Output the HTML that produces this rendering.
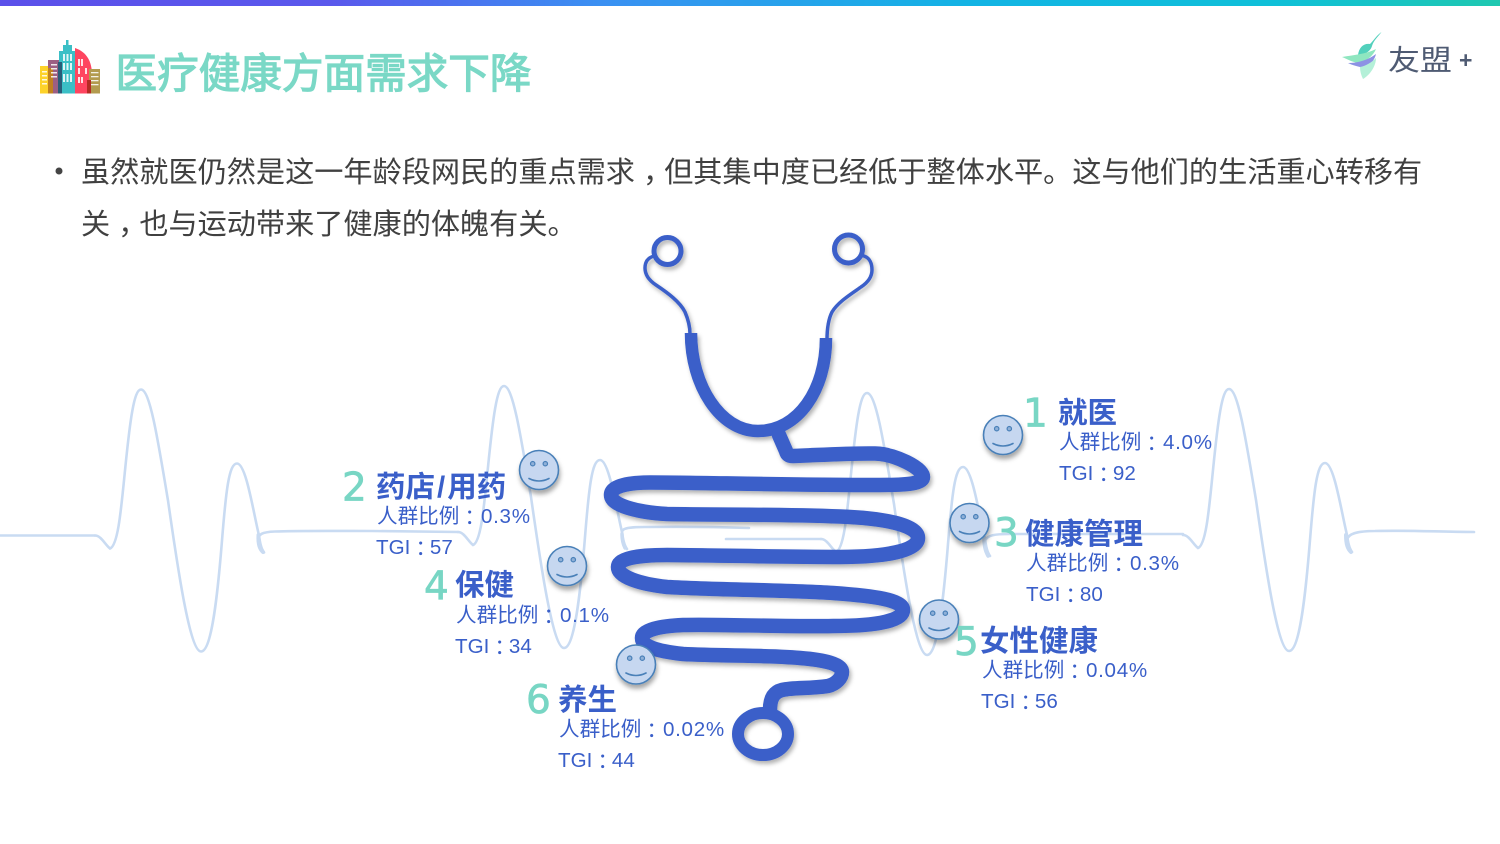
<!DOCTYPE html>
<html><head><meta charset="utf-8"><title>医疗健康方面需求下降</title>
<style>
html,body{margin:0;padding:0;background:#fff}
body{width:1500px;height:844px;overflow:hidden;position:relative}
#bar{position:absolute;left:0;top:0;width:1500px;height:6px;background:linear-gradient(90deg,#5b50ea 0%,#5a58ec 22%,#3a90f2 40%,#12b4e4 65%,#0fc0d8 85%,#1fc8b0 100%)}
svg{position:absolute;left:0;top:0}
text{font-family:"Liberation Sans","Noto Sans CJK SC",sans-serif}
.t{font-size:41.6px;font-weight:400;fill:#7ad8c6;stroke:#7ad8c6;stroke-width:1.2px}
.b{font-size:29.17px;fill:#404040}
.n{font-family:"DejaVu Sans",sans-serif;font-size:39px;fill:#78d6c4;stroke:#78d6c4;stroke-width:.7px}
.h{font-size:29.5px;font-weight:700;fill:#3a5fc9}
.d{font-size:20.6px;fill:#3a5fc9}
.p{font-family:"Noto Sans CJK TC",sans-serif}
.v{letter-spacing:.7px}
.w{fill:none;stroke:#c9dbf2;stroke-width:2.6;stroke-linecap:round}
.s{fill:none;stroke:#3a5fc9;stroke-linecap:round;stroke-linejoin:round}
</style></head><body>
<div id="bar"></div>
<svg width="1500" height="844" viewBox="0 0 1500 844">
<defs>
<filter id="sh" x="-10%" y="-10%" width="120%" height="120%"><feDropShadow dx="2" dy="3" stdDeviation="2" flood-color="#000" flood-opacity=".3"/></filter>
<filter id="sh2" x="-30%" y="-30%" width="160%" height="170%"><feDropShadow dx="1" dy="4" stdDeviation="2.5" flood-color="#000" flood-opacity=".35"/></filter>
<path id="beat" d="M0 0C6 0 10 9 15 13C23 10 26 -25 30 -65C35 -115 39 -146 46 -146C55 -146 63 -95 73 -35C83 35 95 116 106 116C117 116 123 55 127 5C131 -45 134 -72 142 -72C151 -72 158 -25 164 0C165 7 166 13 169 17"/>
<g id="smile">
<circle r="19.5" fill="#c6d7f0" stroke="#4a80b8" stroke-width="1.6"/>
<circle cx="-6.3" cy="-6.3" r="2.2" fill="#8fb0d8" stroke="#4a80b8" stroke-width="1.2"/>
<circle cx="6.3" cy="-6.3" r="2.2" fill="#8fb0d8" stroke="#4a80b8" stroke-width="1.2"/>
<path d="M-10 8.5Q0 13.5 10 8.5" fill="none" stroke="#4a80b8" stroke-width="1.6" stroke-linecap="round"/>
</g>
</defs>

<!-- ECG background -->
<g class="w">
<path d="M0 535.5H95"/><use href="#beat" x="95" y="535.5"/>
<path d="M258 541C258 534 262 532 275 531.5C300 530.500 340 531 372 531L458 532"/>
<use href="#beat" x="458" y="532"/>
<path d="M622 532C622 528 630 527 645 527C680 526.500 720 527 749 528"/>
<path d="M726 539H821"/>
<use href="#beat" x="821" y="539"/>
<path d="M985 541C987 535 995 534 1010 534H1183"/>
<use href="#beat" x="1183" y="535"/>
<path d="M1347 540C1348 534 1356 531 1375 531C1410 530 1440 532 1474 532"/>
<path d="M258.500 535C258 545 260 549 263 552" stroke-width="4"/>
<path d="M1346 535C1346 545 1348 549 1351 552" stroke-width="4"/>
<path d="M984 538C984 548 986 552 988 556" stroke-width="3.500"/>
<path d="M622 534C622 540 623 544 625 548" stroke-width="3.500"/>
</g>

<!-- header icon -->
<g>
<rect x="40" y="66" width="9" height="27.500" fill="#fdd22a"/>
<rect x="48" y="60" width="11" height="33.500" fill="#9c5f83"/>
<rect x="48" y="68" width="5" height="25.500" fill="#c08020"/>
<rect x="59" y="51" width="16" height="42.500" fill="#3bbfc6"/>
<rect x="63" y="45" width="9" height="7" fill="#3bbfc6"/>
<rect x="66" y="40" width="2.500" height="6" fill="#3bbfc6"/>
<rect x="58" y="62" width="4" height="31.500" fill="#2a5c78"/>
<path d="M75 48C87 52 92 62 92 75V93.500H75Z" fill="#fe4560"/>
<rect x="89" y="69" width="11" height="24.500" fill="#b39b4f"/>
<rect x="87" y="80" width="4" height="13.500" fill="#b52b24"/>
<g fill="#fff" opacity=".85">
<rect x="63" y="54" width="2" height="7"/><rect x="66.500" y="54" width="2" height="7"/><rect x="70" y="54" width="2" height="7"/>
<rect x="63" y="63" width="2" height="7"/><rect x="66.500" y="63" width="2" height="7"/><rect x="70" y="63" width="2" height="7"/>
<rect x="63" y="74" width="2" height="8"/><rect x="66.500" y="74" width="2" height="8"/><rect x="70" y="74" width="2" height="8"/>
<rect x="78" y="59" width="2" height="7"/><rect x="81" y="59" width="2" height="7"/>
<rect x="78" y="68" width="2" height="6"/><rect x="85" y="68" width="2" height="6"/><rect x="78" y="77" width="2" height="6"/><rect x="81" y="77" width="2" height="6"/>
<rect x="42" y="71" width="5" height="1.500"/><rect x="42" y="75" width="5" height="1.500"/><rect x="42" y="79" width="5" height="1.500"/><rect x="42" y="83" width="5" height="1.500"/>
<rect x="51" y="64" width="6" height="1.500"/><rect x="51" y="68" width="6" height="1.500"/><rect x="51" y="72" width="6" height="1.500"/><rect x="51" y="76" width="6" height="1.500"/>
<rect x="91" y="72" width="7.500" height="1.300"/><rect x="91" y="76" width="7.500" height="1.300"/><rect x="91" y="80" width="7.500" height="1.300"/><rect x="91" y="84" width="7.500" height="1.300"/>
</g>
</g>
<text class="t" x="115.500" y="88">医疗健康方面需求下降</text>

<!-- logo -->
<g>
<path d="M1381.500 32C1377 38 1374 40 1372 46C1371 50 1366 55 1358 55C1359 47 1364 43 1370 44C1374 40 1377 35 1381.500 32Z" fill="#52d0bc"/>
<path d="M1342 57C1354 55 1366 54 1376 49C1373 56 1366 62 1358 63C1352 62 1347 59 1342 57Z" fill="#8fe6c0"/>
<path d="M1348 63C1358 63 1368 60 1376 54C1374 62 1368 68 1360 67C1356 66 1352 65 1348 63Z" fill="#8d92e4"/>
<path d="M1360 67C1366 66 1372 62 1376 58C1376 66 1370 75 1363 79C1361 75 1360 71 1360 67Z" fill="#b4f0d8"/>
<text transform="translate(1388 70) scale(1 .88)" style="font-size:32px" fill="#4f5b73">友盟</text>
<text x="1459" y="68" style="font-size:23px;font-weight:700" fill="#4f5b73">+</text>
</g>

<!-- body text -->
<circle cx="59" cy="171" r="3.500" fill="#444"/>
<text class="b" x="81" y="182">虽然就医仍然是这一年龄段网民的重点需求<tspan dx="8">，</tspan><tspan dx="-8">但</tspan>其集中度已经低于整体水平。这与他们的生活重心转移有</text>
<text class="b" x="81" y="234">关<tspan dx="8">，</tspan><tspan dx="-8">也</tspan>与运动带来了健康的体魄有关。</text>

<!-- stethoscope -->
<g filter="url(#sh)">
<circle class="s" cx="667.500" cy="251" r="13.500" stroke-width="5"/>
<circle class="s" cx="848.500" cy="249" r="14" stroke-width="5"/>
<path class="s" stroke-width="3.500" d="M654 256C647 258 645 263 645 268C645 276 650 281 656 285C668 293 680 302 685 312C688 319 690 326 690 334"/>
<path class="s" stroke-width="3.500" d="M864 256C870 258 872 264 872 270C872 278 867 283 861 287C851 294 838 302 832 312C828 320 827 330 827 340"/>
<path class="s" stroke-width="12.500" style="stroke-linecap:butt" d="M691 333C691 385 720 431 758 431C798 431 826 390 826 338"/>
<path class="s" stroke-width="14.500" d="M779 435L786 451C787 455 789 456 793 456C820 455 850 453 875 453.500C895 454 923 468 923 477C923 484 905 485 880 485C780 485 700 482.500 650 482.500C625 482.500 611 487 611 495C611 505 635 512 667 514C720 515 780 514 840 516.500C880 518 918 524 918 538C918 551 885 557 840 557C780 557 700 555 667 555C635 555 618 559 618 567C618 577 640 584 667 587C720 590 790 590 833 593C875 596 903 600 903 610C903 620 880 626 833 626C780 627 720 624 683 625C660 626 642 630 642 638C642 646 655 651 683 654C720 656 770 655 800 658C825 660 842 664 842 672C842 678 836 684 828 686C808 689 795 687 782 690C774 692 770 698 770 710"/>
<ellipse class="s" cx="763" cy="734" rx="25" ry="21" stroke-width="12"/>
</g>

<!-- smileys -->
<g filter="url(#sh2)">
<use href="#smile" x="1003" y="435"/>
<use href="#smile" x="539" y="470"/>
<use href="#smile" x="969.500" y="523"/>
<use href="#smile" x="567" y="566"/>
<use href="#smile" x="939" y="619.500"/>
<use href="#smile" x="636" y="664.500"/>
</g>

<!-- labels -->
<text class="n" x="1023" y="426.500">1</text>
<text class="h" x="1058" y="423">就医</text>
<text class="d" x="1059" y="449">人群比例<tspan class="p" lang="zh-TW" dy="2">：</tspan><tspan class="v" dx="1" dy="-2">4.0%</tspan></text>
<text class="d" x="1059" y="480">TGI<tspan class="p" lang="zh-TW" dy="2">：</tspan><tspan dx="-1" dy="-2">92</tspan></text>

<text class="n" x="342" y="500.500">2</text>
<text class="h" x="376" y="497">药店<tspan dx="2">/</tspan><tspan dx="2">用药</tspan></text>
<text class="d" x="377" y="523">人群比例<tspan class="p" lang="zh-TW" dy="2">：</tspan><tspan class="v" dx="1" dy="-2">0.3%</tspan></text>
<text class="d" x="376" y="554">TGI<tspan class="p" lang="zh-TW" dy="2">：</tspan><tspan dx="-1" dy="-2">57</tspan></text>

<text class="n" x="424" y="599.500">4</text>
<text class="h" x="455" y="595">保健</text>
<text class="d" x="456" y="622">人群比例<tspan class="p" lang="zh-TW" dy="2">：</tspan><tspan class="v" dx="1" dy="-2">0.1%</tspan></text>
<text class="d" x="455" y="653">TGI<tspan class="p" lang="zh-TW" dy="2">：</tspan><tspan dx="-1" dy="-2">34</tspan></text>

<text class="n" x="994" y="546">3</text>
<text class="h" x="1025" y="544">健康管理</text>
<text class="d" x="1026" y="570">人群比例<tspan class="p" lang="zh-TW" dy="2">：</tspan><tspan class="v" dx="1" dy="-2">0.3%</tspan></text>
<text class="d" x="1026" y="601">TGI<tspan class="p" lang="zh-TW" dy="2">：</tspan><tspan dx="-1" dy="-2">80</tspan></text>

<text class="n" x="954" y="655">5</text>
<text class="h" x="980" y="651">女性健康</text>
<text class="d" x="982" y="677">人群比例<tspan class="p" lang="zh-TW" dy="2">：</tspan><tspan class="v" dx="1" dy="-2">0.04%</tspan></text>
<text class="d" x="981" y="708">TGI<tspan class="p" lang="zh-TW" dy="2">：</tspan><tspan dx="-1" dy="-2">56</tspan></text>

<text class="n" x="526" y="713">6</text>
<text class="h" x="558" y="710">养生</text>
<text class="d" x="559" y="736">人群比例<tspan class="p" lang="zh-TW" dy="2">：</tspan><tspan class="v" dx="1" dy="-2">0.02%</tspan></text>
<text class="d" x="558" y="767">TGI<tspan class="p" lang="zh-TW" dy="2">：</tspan><tspan dx="-1" dy="-2">44</tspan></text>
</svg>
</body></html>
